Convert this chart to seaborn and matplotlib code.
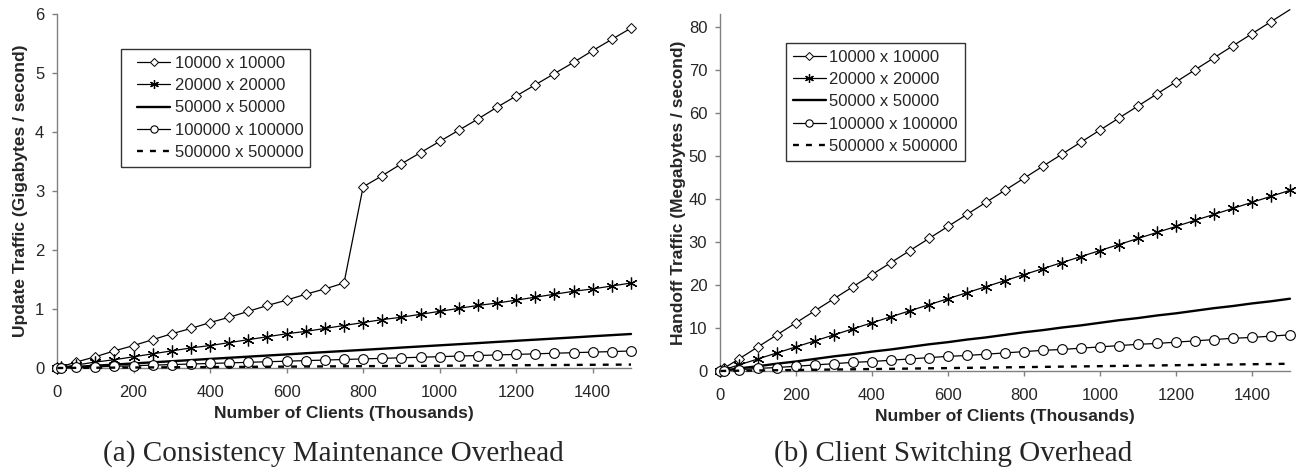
import numpy as np
import pandas as pd
import matplotlib
matplotlib.use("Agg")
import matplotlib.pyplot as plt
from matplotlib.legend_handler import HandlerLine2D
from matplotlib.lines import Line2D
import seaborn as sns

# ---------------- data ----------------
clients = [1, 10, 50, 100, 150, 200, 250, 300, 350, 400, 450, 500, 550, 600, 650, 700,
           750, 800, 850, 900, 950, 1000, 1050, 1100, 1150, 1200, 1250, 1300, 1350,
           1400, 1450, 1500]

series_names = ["10000 x 10000", "20000 x 20000", "50000 x 50000",
                "100000 x 100000", "500000 x 500000"]

# (a) Update traffic, Gigabytes / second
upd_10k = [0.00, 0.02, 0.10, 0.19, 0.29, 0.38, 0.48, 0.58, 0.67, 0.77, 0.86, 0.96, 1.06,
           1.15, 1.25, 1.34, 1.44, 3.07, 3.26, 3.46, 3.65, 3.84, 4.03, 4.22, 4.42, 4.61,
           4.80, 4.99, 5.18, 5.38, 5.57, 5.76]
upd_20k = [0.00, 0.01, 0.05, 0.10, 0.14, 0.19, 0.24, 0.29, 0.34, 0.38, 0.43, 0.48, 0.53,
           0.58, 0.62, 0.67, 0.72, 0.77, 0.82, 0.86, 0.91, 0.96, 1.01, 1.06, 1.10, 1.15,
           1.20, 1.25, 1.30, 1.34, 1.39, 1.44]
upd_50k = [0.000, 0.004, 0.019, 0.038, 0.058, 0.077, 0.096, 0.115, 0.134, 0.154, 0.173,
           0.192, 0.211, 0.230, 0.250, 0.269, 0.288, 0.307, 0.326, 0.346, 0.365, 0.384,
           0.403, 0.422, 0.442, 0.461, 0.480, 0.499, 0.518, 0.538, 0.557, 0.576]
upd_100k = [0.000, 0.002, 0.010, 0.019, 0.029, 0.038, 0.048, 0.058, 0.067, 0.077, 0.086,
            0.096, 0.106, 0.115, 0.125, 0.134, 0.144, 0.154, 0.163, 0.173, 0.182, 0.192,
            0.202, 0.211, 0.221, 0.230, 0.240, 0.250, 0.259, 0.269, 0.278, 0.288]
upd_500k = [0.000, 0.000, 0.002, 0.004, 0.006, 0.008, 0.010, 0.012, 0.013, 0.015, 0.017,
            0.019, 0.021, 0.023, 0.025, 0.027, 0.029, 0.031, 0.033, 0.035, 0.036, 0.038,
            0.040, 0.042, 0.044, 0.046, 0.048, 0.050, 0.052, 0.054, 0.056, 0.058]

# (b) Handoff traffic, Megabytes / second
hand_10k = [0.1, 0.6, 2.8, 5.6, 8.4, 11.2, 14.0, 16.8, 19.6, 22.4, 25.2, 28.0, 30.8, 33.6,
            36.4, 39.2, 42.0, 44.8, 47.6, 50.4, 53.2, 56.0, 58.8, 61.6, 64.4, 67.2, 70.0,
            72.8, 75.6, 78.4, 81.2, 84.0]
hand_20k = [0.0, 0.3, 1.4, 2.8, 4.2, 5.6, 7.0, 8.4, 9.8, 11.2, 12.6, 14.0, 15.4, 16.8,
            18.2, 19.6, 21.0, 22.4, 23.8, 25.2, 26.6, 28.0, 29.4, 30.8, 32.2, 33.6, 35.0,
            36.4, 37.8, 39.2, 40.6, 42.0]
hand_50k = [0.0, 0.1, 0.6, 1.1, 1.7, 2.2, 2.8, 3.4, 3.9, 4.5, 5.0, 5.6, 6.2, 6.7, 7.3,
            7.8, 8.4, 9.0, 9.5, 10.1, 10.6, 11.2, 11.8, 12.3, 12.9, 13.4, 14.0, 14.6,
            15.1, 15.7, 16.2, 16.8]
hand_100k = [0.0, 0.1, 0.3, 0.6, 0.8, 1.1, 1.4, 1.7, 2.0, 2.2, 2.5, 2.8, 3.1, 3.4, 3.6,
             3.9, 4.2, 4.5, 4.8, 5.0, 5.3, 5.6, 5.9, 6.2, 6.4, 6.7, 7.0, 7.3, 7.6, 7.8,
             8.1, 8.4]
hand_500k = [0.00, 0.01, 0.06, 0.11, 0.17, 0.22, 0.28, 0.34, 0.39, 0.45, 0.50, 0.56, 0.62,
             0.67, 0.73, 0.78, 0.84, 0.90, 0.95, 1.01, 1.06, 1.12, 1.18, 1.23, 1.29, 1.34,
             1.40, 1.46, 1.51, 1.57, 1.62, 1.68]

x_ticks = [0, 200, 400, 600, 800, 1000, 1200, 1400]
a_yticks = [0, 1, 2, 3, 4, 5, 6]
b_yticks = [0, 10, 20, 30, 40, 50, 60, 70, 80]

# ---------------- style ----------------
sns.set_style("ticks")
plt.rcParams["font.family"] = ["Liberation Sans", "DejaVu Sans"]

styles = [
    dict(marker="D", markersize=5.0, markerfacecolor="white", markeredgecolor="black",
         markeredgewidth=0.7, linewidth=0.9, linestyle="-"),
    dict(marker=(6, 2, 0), markersize=8.5, markeredgecolor="black",
         markeredgewidth=0.9, linewidth=0.9, linestyle="-"),
    dict(marker=None, linewidth=1.7, linestyle="-"),
    dict(marker="o", markersize=7.0, markerfacecolor="white", markeredgecolor="black",
         markeredgewidth=0.8, linewidth=0.9, linestyle="-"),
    dict(marker=None, linewidth=1.7, linestyle=(0, (2.5, 3))),
]

fig = plt.figure(figsize=(13.04, 4.75), dpi=100)
ax_a = fig.add_axes([0.0437, 0.2253, 0.4402, 0.7453])
ax_b = fig.add_axes([0.5521, 0.219, 0.4371, 0.7516])

spine_col = "#808080"
FS_TICK = 12
FS_LAB = 12.5
FS_LEG = 12


def draw(ax, ys, ylim, yticks, ylabel, legend_anchor, first_markevery, ylabelpad,
         leg_xpad, leg_hlen, leg_tpad):
    for i, (name, y, st) in enumerate(zip(series_names, ys, styles)):
        kw = dict(st)
        if i == 0 and first_markevery is not None:
            kw["markevery"] = first_markevery
        sns.lineplot(x=clients, y=y, ax=ax, color="black", label=name,
                     clip_on=False, zorder=3, **kw)
    ax.set_xlim(0, 1500)
    ax.set_ylim(*ylim)
    ax.set_xticks(x_ticks)
    ax.set_yticks(yticks)
    ax.tick_params(axis="both", labelsize=FS_TICK, color=spine_col, length=3.6,
                   width=1, direction="out")
    ax.tick_params(axis="x", pad=8.5)
    ax.tick_params(axis="y", pad=5.5)
    for s in ["top", "right"]:
        ax.spines[s].set_visible(False)
    for s in ["left", "bottom"]:
        ax.spines[s].set_color(spine_col)
        ax.spines[s].set_linewidth(1)
    ax.set_xlabel("Number of Clients (Thousands)", fontsize=FS_LAB,
                  fontweight="bold", labelpad=4.5)
    ax.set_ylabel(ylabel, fontsize=FS_LAB, fontweight="bold", labelpad=ylabelpad)
    handler = HandlerLine2D(numpoints=1, xpad=leg_xpad)
    leg = ax.legend(loc="upper left", bbox_to_anchor=legend_anchor, fontsize=FS_LEG,
                    frameon=True, fancybox=False, framealpha=1, edgecolor="#333333",
                    handlelength=leg_hlen, handletextpad=leg_tpad, labelspacing=0.44,
                    borderpad=0.4, borderaxespad=0, markerscale=0.75,
                    handler_map={Line2D: handler})
    leg.get_frame().set_linewidth(1.0)


draw(ax_a, [upd_10k, upd_20k, upd_50k, upd_100k, upd_500k], (0, 6), a_yticks,
     "Update Traffic (Gigabytes / second)", (0.111, 0.901), None, 5,
     0.6, 2.55, 0.3)
draw(ax_b, [hand_10k, hand_20k, hand_50k, hand_100k, hand_500k], (0, 83), b_yticks,
     "Handoff Traffic (Megabytes / second)", (0.116, 0.919), slice(0, -1), 2,
     0.0, 2.0, 0.2)

fig.text(0.2554, 0.031, "(a) Consistency Maintenance Overhead", ha="center",
         va="baseline", fontsize=21, family=["Liberation Serif", "DejaVu Serif"])
fig.text(0.7308, 0.031, "(b) Client Switching Overhead", ha="center",
         va="baseline", fontsize=21, family=["Liberation Serif", "DejaVu Serif"])

fig.savefig("out.png", dpi=100)
